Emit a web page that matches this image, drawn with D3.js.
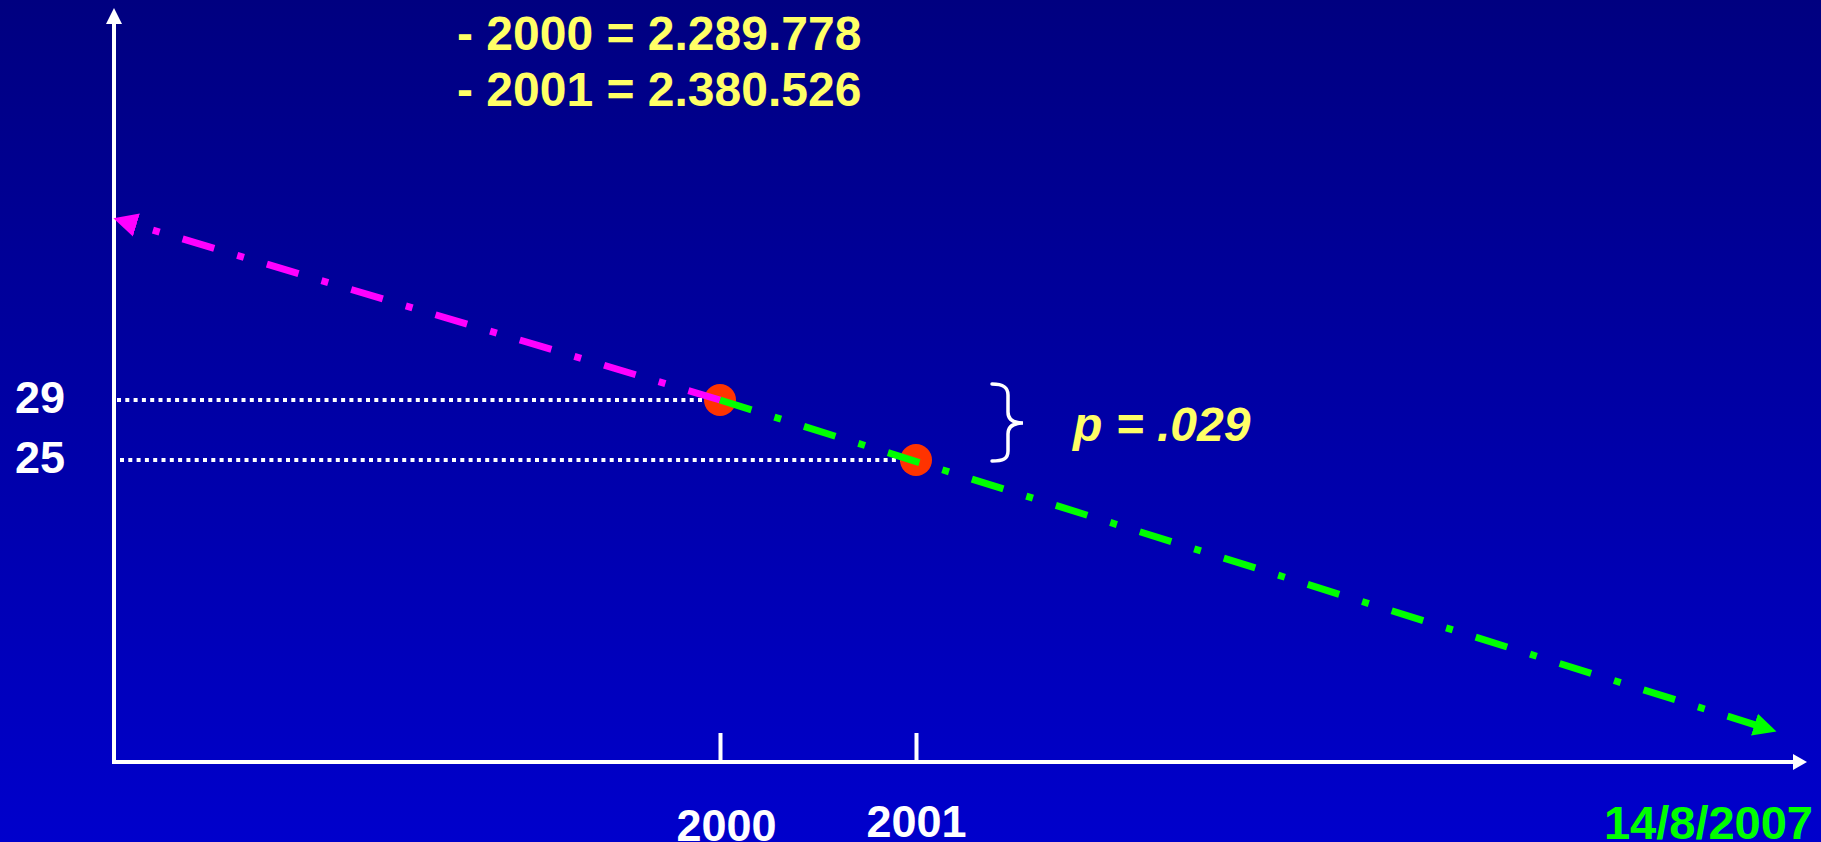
<!DOCTYPE html>
<html>
<head>
<meta charset="utf-8">
<script src="https://cdn.jsdelivr.net/npm/d3@7"></script>
<style>
  html, body { margin: 0; padding: 0; overflow: hidden; background: #000080; }
  svg { display: block; }
  text { font-family: "Liberation Sans", Arial, sans-serif; font-weight: bold; }
</style>
</head>
<body>
<svg id="chart" width="1821" height="842"></svg>
<script>
// ---- data ----
const years = [2000, 2001];
const rates = [29, 25];
const pastTrend = [{year: 2000, rate: 29}, {year: 1996.91, rate: 41.1}];
const futureTrend = [{year: 2000, rate: 29}, {year: 2005.39, rate: 6.9}];
const titleLines = ["- 2000 = 2.289.778", "- 2001 = 2.380.526"];
const pLabel = "p = .029";
const dateLabel = "14/8/2007";

// ---- layout ----
const W = 1821, H = 842;
const axisX = 114, axisY = 762;
const svg = d3.select("#chart");

const defs = svg.append("defs");
const grad = defs.append("linearGradient").attr("id", "bg")
  .attr("x1", 0).attr("y1", 0).attr("x2", 0).attr("y2", 1);
grad.append("stop").attr("offset", 0).attr("stop-color", "#000080");
grad.append("stop").attr("offset", 1).attr("stop-color", "#0000cc");

function marker(id, color, len, half) {
  defs.append("marker").attr("id", id)
    .attr("markerUnits", "userSpaceOnUse")
    .attr("viewBox", `0 ${-half - 2} ${len + 4} ${2 * half + 4}`)
    .attr("markerWidth", len + 4).attr("markerHeight", 2 * half + 4)
    .attr("refX", 4).attr("refY", 0).attr("orient", "auto")
    .append("path").attr("d", `M0,${-half}L${len},0L0,${half}Z`).attr("fill", color);
}
marker("arrWhiteY", "#ffffff", 16, 8);
marker("arrWhiteX", "#ffffff", 14, 8);
marker("arrMagenta", "#ff00ff", 24, 12);
marker("arrGreen", "#00ff00", 23, 11.5);

svg.append("rect").attr("width", W).attr("height", H).attr("fill", "url(#bg)");

// ---- scales ----
const x = d3.scaleLinear().domain([2000, 2001]).range([720, 916]);
const y = d3.scaleLinear().domain([25, 29]).range([460, 400]);

// dotted guide lines
svg.append("g").selectAll("line").data(years).join("line")
  .attr("x1", (d, i) => axisX + 3 + i * 3).attr("x2", d => x(d))
  .attr("y1", (d, i) => y(rates[i])).attr("y2", (d, i) => y(rates[i]))
  .attr("stroke", "#ffffff").attr("stroke-width", 4)
  .attr("stroke-dasharray", "4 4.3");

// y axis line
svg.append("line").attr("x1", axisX).attr("y1", axisY)
  .attr("x2", axisX).attr("y2", 8 + 12)
  .attr("stroke", "#fff").attr("stroke-width", 4)
  .attr("marker-end", "url(#arrWhiteY)");
// x axis line
svg.append("line").attr("x1", axisX - 2).attr("y1", axisY)
  .attr("x2", 1807 - 10).attr("y2", axisY)
  .attr("stroke", "#fff").attr("stroke-width", 4)
  .attr("marker-end", "url(#arrWhiteX)");

// x axis ticks and labels
const xAxis = d3.axisBottom(x).tickValues(years).tickSize(-29).tickPadding(44)
  .tickFormat(d3.format("d"));
const gx = svg.append("g").attr("transform", `translate(0,${axisY})`).call(xAxis);
gx.select(".domain").remove();
gx.selectAll(".tick line").attr("stroke", "#fff").attr("stroke-width", 4);
gx.selectAll(".tick text").attr("fill", "#fff").attr("font-size", 45)
  .attr("font-family", "Liberation Sans, Arial, sans-serif").attr("font-weight", "bold")
  .attr("transform", d => d === 2000 ? "translate(6,3)" : "translate(0,-1)");

// y axis labels
const yAxis = d3.axisLeft(y).tickValues(rates).tickSize(0).tickPadding(49)
  .tickFormat(d3.format("d"));
const gy = svg.append("g").attr("transform", `translate(${axisX},0)`).call(yAxis);
gy.select(".domain").remove();
gy.selectAll(".tick text").attr("fill", "#fff").attr("font-size", 45)
  .attr("font-family", "Liberation Sans, Arial, sans-serif").attr("font-weight", "bold")
  .attr("dy", "0.27em");

// points
svg.append("g").selectAll("circle").data(years).join("circle")
  .attr("cx", d => x(d)).attr("cy", (d, i) => y(rates[i])).attr("r", 16)
  .attr("fill", "#ff3300");

// trend lines
function trend(data, color, markerId) {
  const p0 = [x(data[0].year), y(data[0].rate)];
  const p1 = [x(data[1].year), y(data[1].rate)];
  const L = Math.hypot(p1[0] - p0[0], p1[1] - p0[1]);
  const back = 19;
  const pe = [p1[0] - (p1[0] - p0[0]) / L * back, p1[1] - (p1[1] - p0[1]) / L * back];
  svg.append("path").attr("d", d3.line()([p0, pe]))
    .attr("fill", "none").attr("stroke", color).attr("stroke-width", 7)
    .attr("stroke-dasharray", "33 24 7 24")
    .attr("marker-end", `url(#${markerId})`);
}
trend(pastTrend, "#ff00ff", "arrMagenta");
trend(futureTrend, "#00ff00", "arrGreen");

// brace
svg.append("path")
  .attr("d", "M992,384 C1003,384 1008,387 1008,395 L1008,412 C1008,419 1012,423 1023,423 C1012,423 1008,427 1008,434 L1008,451 C1008,459 1003,461 992,461")
  .attr("fill", "none").attr("stroke", "#fff").attr("stroke-width", 3.5).attr("stroke-linecap", "round");

// p value
svg.append("text").attr("x", 1073).attr("y", 441).attr("fill", "#ffff66")
  .attr("font-size", 48).attr("font-style", "italic").text(pLabel);

// title lines
svg.append("g").selectAll("text").data(titleLines).join("text")
  .attr("x", 457).attr("y", (d, i) => 50 + i * 56)
  .attr("fill", "#ffff66").attr("font-size", 48).text(d => d);

// date
svg.append("text").attr("x", 1813).attr("y", 839).attr("text-anchor", "end")
  .attr("fill", "#00ff00").attr("font-size", 47).text(dateLabel);
</script>
</body>
</html>
